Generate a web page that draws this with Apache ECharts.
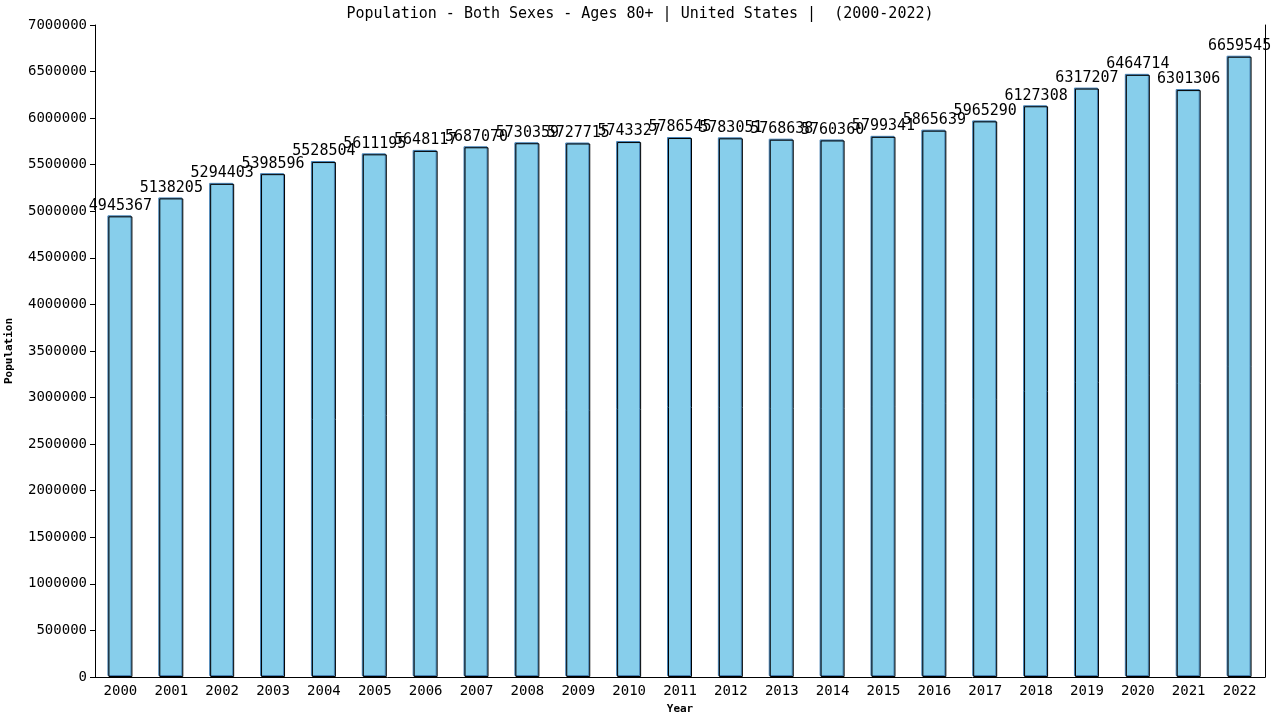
<!DOCTYPE html>
<html>
<head>
<meta charset="utf-8">
<script src="https://cdn.jsdelivr.net/npm/echarts@6/dist/echarts.min.js"></script>
<style>html,body{margin:0;padding:0;background:#fff}#c{width:1280px;height:720px}</style>
</head>
<body>
<div id="c"></div>
<script>
const years = ['2000','2001','2002','2003','2004','2005','2006','2007','2008','2009','2010','2011','2012','2013','2014','2015','2016','2017','2018','2019','2020','2021','2022'];
const population = [4945367,5138205,5294403,5398596,5528504,5611195,5648117,5687070,5730359,5727715,5743327,5786545,5783051,5768638,5760360,5799341,5865639,5965290,6127308,6317207,6464714,6301306,6659545];
const titleText = 'Population - Both Sexes - Ages 80+ | United States |  (2000-2022)';
const F = '"DejaVu Sans Mono", monospace';

const chart = echarts.init(document.getElementById('c'), null, {renderer:'canvas'});
chart.setOption({
  animation:false,
  backgroundColor:'#fff',
  title:{text:titleText,left:'center',top:2,textStyle:{fontFamily:F,fontSize:15,fontWeight:'normal',color:'#000'}},
  grid:{left:95,right:15,top:25,bottom:43,containLabel:false,outerBoundsMode:'none'},
  xAxis:{type:'category',data:years,name:'Year',nameLocation:'middle',nameGap:27,
    nameTextStyle:{fontFamily:F,fontSize:11,fontWeight:'bold',color:'#000'},
    axisLine:{lineStyle:{color:'#000',width:1}},axisTick:{show:false},
    axisLabel:{fontFamily:F,fontSize:14,color:'#000',margin:7}},
  yAxis:[{type:'value',min:0,max:7000000,interval:500000,name:'Population',nameLocation:'middle',nameGap:80,
    nameTextStyle:{fontFamily:F,fontSize:11,fontWeight:'bold',color:'#000'},
    axisLine:{show:true,lineStyle:{color:'#000',width:1}},
    axisTick:{show:true,length:5,lineStyle:{color:'#000'}},
    axisLabel:{fontFamily:F,fontSize:14,color:'#000',margin:8,formatter:function(v){return String(v);}},
    splitLine:{show:false}},
   {type:'value',min:0,max:7000000,position:'right',axisLine:{show:true,lineStyle:{color:'#000',width:1}},
    axisTick:{show:false},axisLabel:{show:false},splitLine:{show:false}}],
  series:[{type:'bar',data:population,barWidth:24,
    itemStyle:{color:'#87CEEB',borderColor:'#000',borderWidth:1,shadowColor:'#4682B4',shadowOffsetX:-1,shadowOffsetY:-1,shadowBlur:0},
    label:{show:true,position:'top',distance:3,fontFamily:F,fontSize:15,color:'#000',formatter:function(p){return String(p.value);}}}]
});
</script>
</body>
</html>
